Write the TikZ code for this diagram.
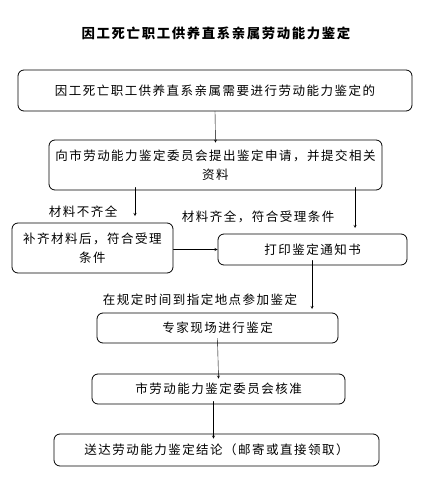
\documentclass[tikz,border=0pt]{standalone}
\usepackage{fontspec}
\setmainfont{Noto Sans CJK SC}[LetterSpace=12]
\begin{document}
\begin{tikzpicture}[x=1pt, y=-1pt, font=\fontsize{12.5}{19}\selectfont, line join=round, line cap=round, >=stealth]
		\tikzset{box/.style={draw, line width=.8pt, rounded corners=6pt, align=center, inner sep=0pt}}
		\useasboundingbox (0,0) rectangle (429,485);
		\node[font=\fontsize{13.4}{19}\selectfont\bfseries] (title) at (216,33) {因工死亡职工供养直系亲属劳动能力鉴定};
		\node[box, minimum width=394pt, minimum height=41pt] (b1) at (215,90.5) {因工死亡职工供养直系亲属需要进行劳动能力鉴定的};
		\node[box, minimum width=333pt, minimum height=50pt] (b2) at (215.5,165) {向市劳动能力鉴定委员会提出鉴定申请，并提交相关\\资料};
		\node[box, minimum width=161pt, minimum height=50pt] (b3) at (92.5,248) {补齐材料后，符合受理\\条件};
		\node[box, minimum width=189pt, minimum height=31pt] (b4) at (312.5,249.5) {打印鉴定通知书};
		\node[box, minimum width=241pt, minimum height=30pt] (b5) at (217.5,328) {专家现场进行鉴定};
		\node[box, minimum width=253pt, minimum height=30pt] (b6) at (218.5,389) {市劳动能力鉴定委员会核准};
		\node[box, minimum width=325pt, minimum height=32pt] (b7) at (216.5,450) {送达劳动能力鉴定结论（邮寄或直接领取）};
		\node (l1) at (83,212) {材料不齐全};
		\node (l2) at (258,217) {材料齐全，符合受理条件};
		\node (l3) at (200,300) {在规定时间到指定地点参加鉴定};
		\coordinate (c1) at (135,216);
		\coordinate (c2) at (355,228);
		\coordinate (c3) at (312,309);
		\draw[->] (b1.south) -- ([yshift=-3pt]b2.north);
		\draw[->] ([yshift=3pt]b2.south -| c1) -- (c1);
		\draw[->] ([yshift=3pt]b2.south -| c2) -- (c2);
		\draw[->] (b3.east |- b4.west) -- (b4.west);
		\draw[->] ([yshift=5pt]b4.south -| c3) -- (c3);
		\draw[->] ([yshift=5pt]b5.south) -- ([yshift=-5pt]b6.north);
		\draw[->] ([yshift=3pt,xshift=-5pt]b6.south) -- ([yshift=-5pt,xshift=-5pt]b6.south |- b7.north);
\end{tikzpicture}
\end{document}
